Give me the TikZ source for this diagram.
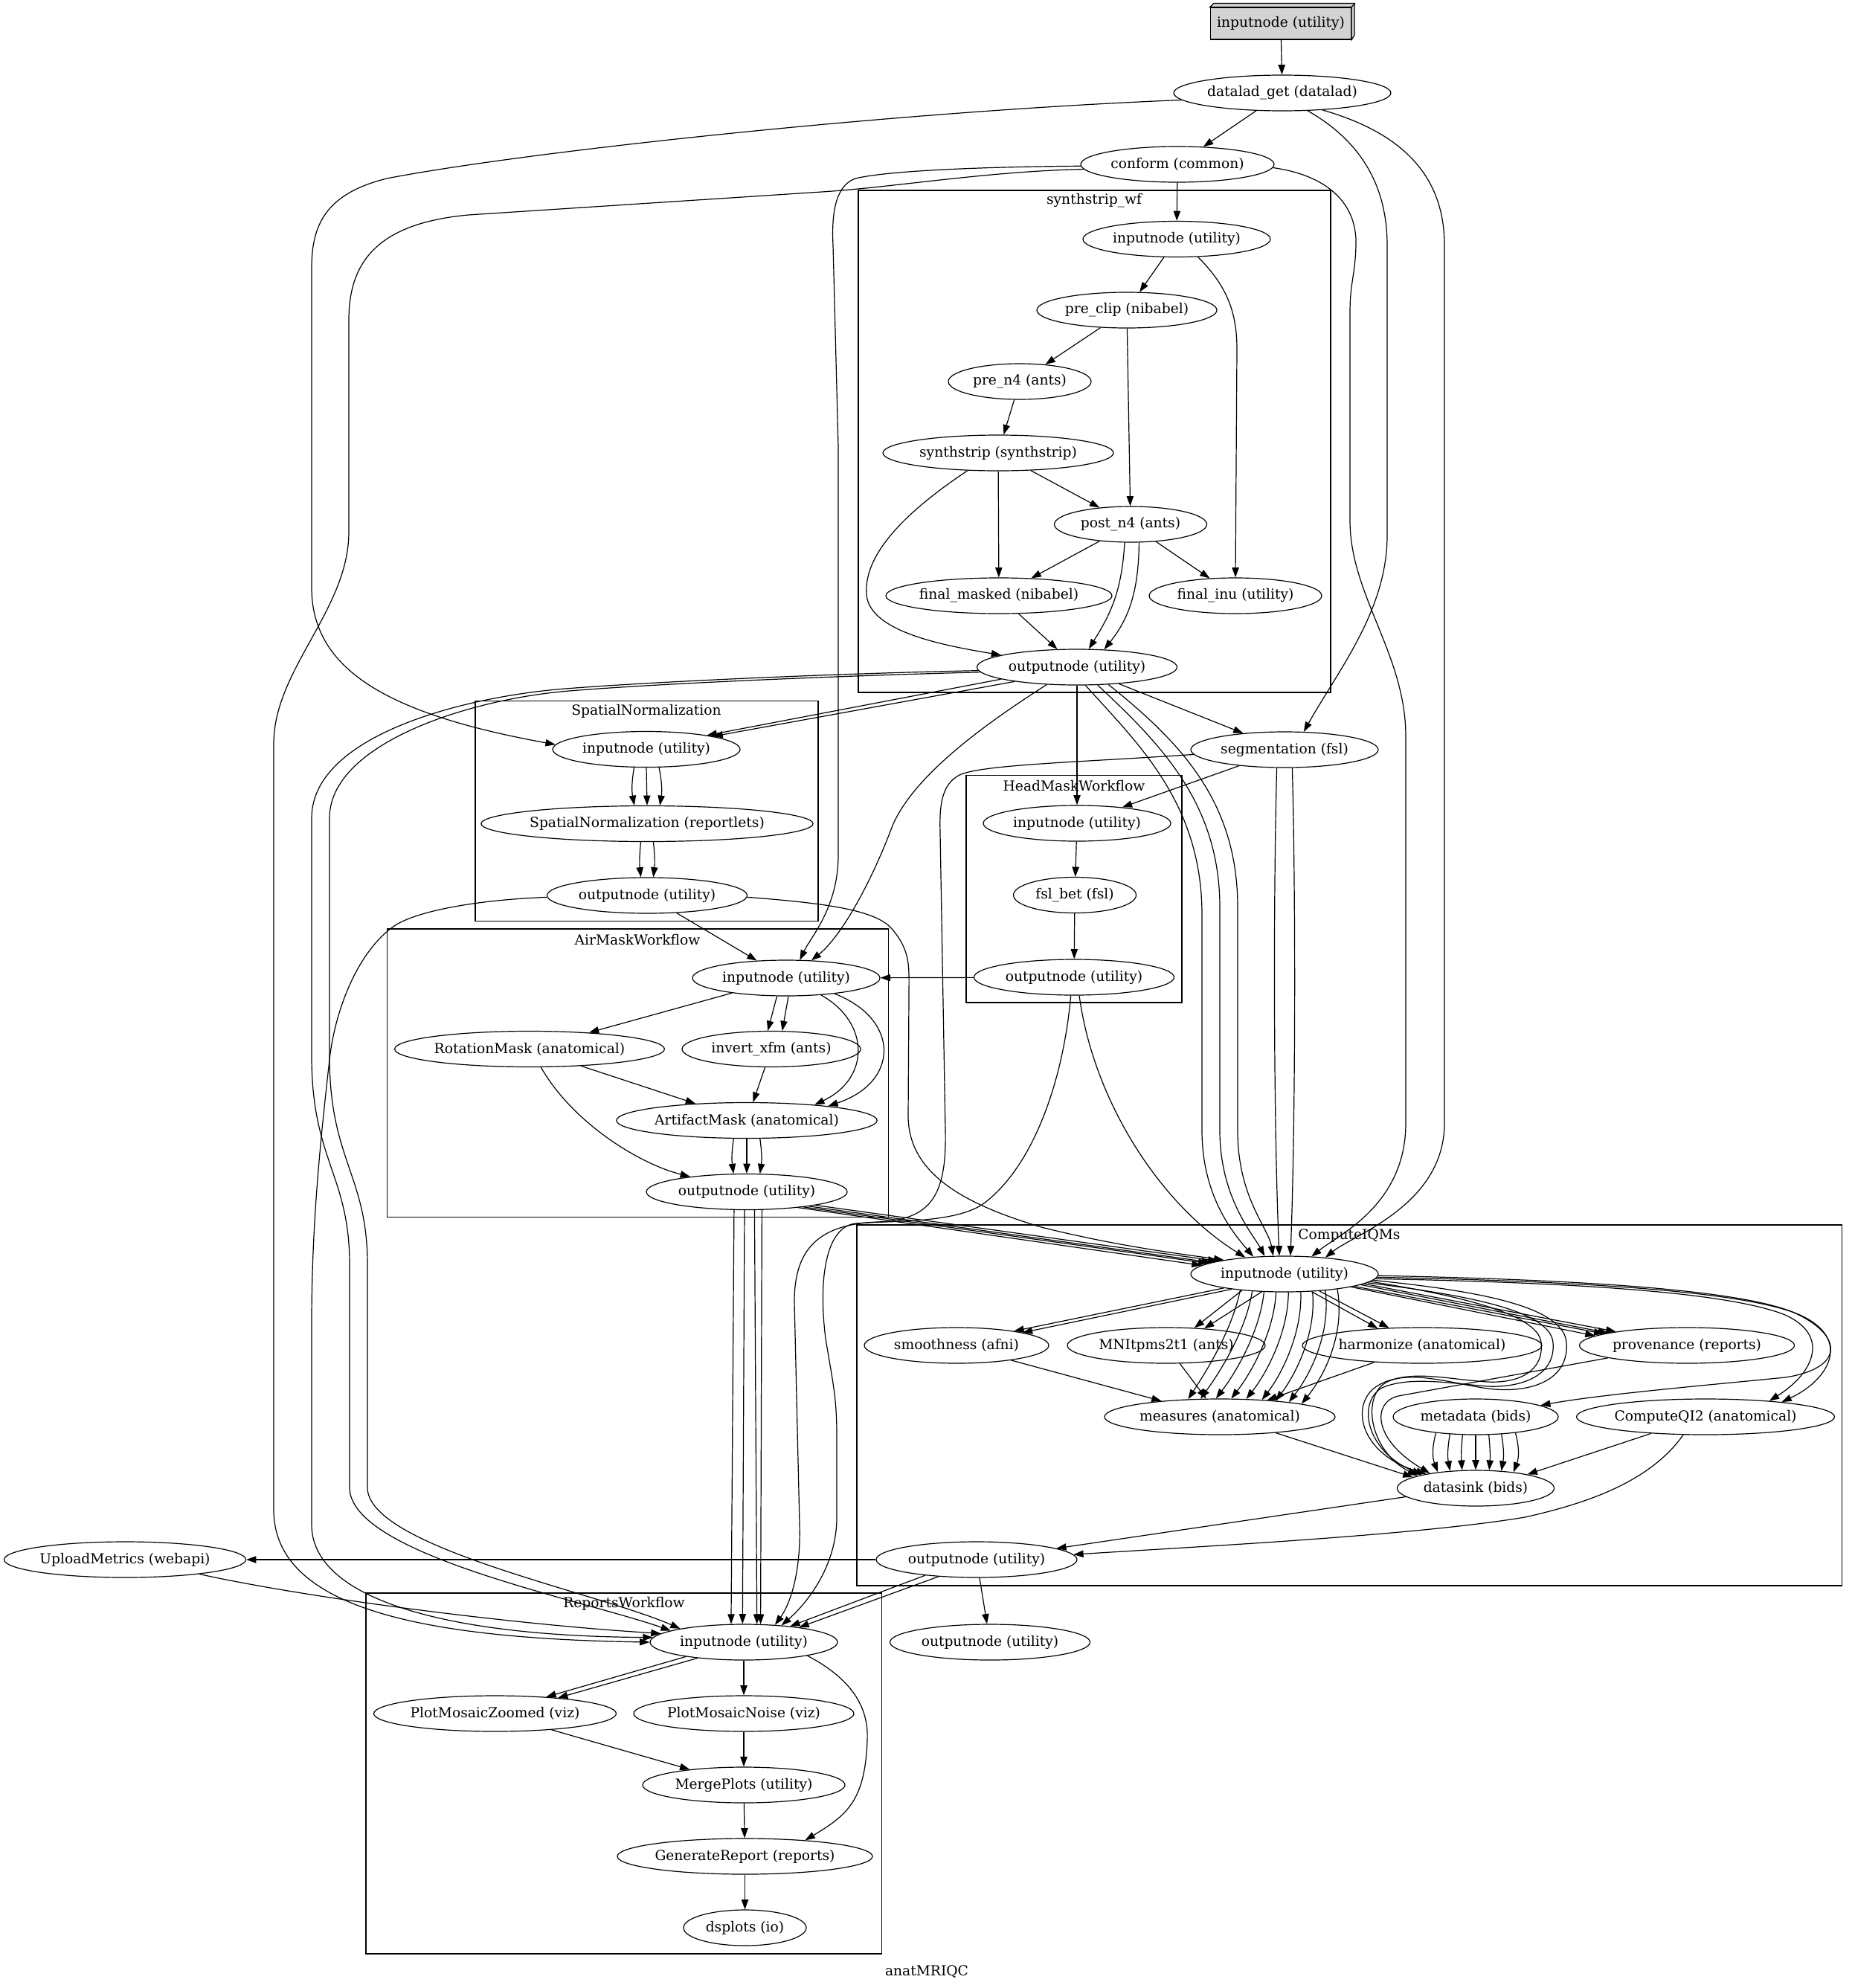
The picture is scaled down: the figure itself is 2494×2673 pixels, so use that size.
\documentclass[tikz,border=0pt]{standalone}
\usepackage{fontspec}
\setmainfont{DejaVu Serif}
\usetikzlibrary{arrows.meta,shapes.geometric}
\definecolor{boxgray}{HTML}{D3D3D3}
\newcommand{\gv}{\fontsize{14pt}{17pt}\selectfont}

\begin{document}
\begin{tikzpicture}[x=0.75pt, y=-0.75pt, line width=0.9pt, font=\gv,
  job/.style={draw, ellipse, minimum height=36pt, inner sep=0pt},
  wire/.style={-{Triangle[length=10pt,width=7pt]}}]
\useasboundingbox (0,0) rectangle (2494,2673);

\draw (1154,256) rectangle (1789,931);
\node (lss) at (1471,270) {synthstrip\_wf};
\draw (639,942.5) rectangle (1100,1238.5);
\node (lsn) at (869,956) {SpatialNormalization};
\draw (1299,1042.5) rectangle (1589,1348);
\node (lhm) at (1444,1056.5) {HeadMaskWorkflow};
\draw (520.5,1249) rectangle (1194.5,1636.5);
\node (lam) at (857,1263.5) {AirMaskWorkflow};
\draw (1152,1647) rectangle (2476.5,2132);
\node (lcq) at (1814,1661) {ComputeIQMs};
\draw (492,2142) rectangle (1185.5,2627);
\node (lrw) at (839,2156) {ReportsWorkflow};
\node (graphlabel) at (1246,2651) {anatMRIQC};

\node[draw, fill=boxgray, minimum width=141.75pt, minimum height=32.25pt, inner sep=0pt] (top) at (1722,31.5) {inputnode (utility)};
\draw[fill=boxgray] (top.north west) -- ++(5,-5) -- ++(189,0) -- ++(0,43) -- (top.south east) -- (top.north east) -- cycle;
\draw (top.north east) -- ++(5,-5);

\node[job, minimum width=219pt] (dlget) at (1724,125) {datalad\_get (datalad)};
\node[job, minimum width=195pt] (conform) at (1583,221) {conform (common)};
\node[job, minimum width=189pt] (ssin) at (1582,321.5) {inputnode (utility)};
\node[job, minimum width=181.5pt] (preclip) at (1515,417) {pre\_clip (nibabel)};
\node[job, minimum width=144pt] (pren4) at (1371,513) {pre\_n4 (ants)};
\node[job, minimum width=232.5pt] (sstrip) at (1342,609) {synthstrip (synthstrip)};
\node[job, minimum width=153.75pt] (postn4) at (1520,705) {post\_n4 (ants)};
\node[job, minimum width=228pt] (fmask) at (1343,801) {final\_masked (nibabel)};
\node[job, minimum width=174pt] (finu) at (1661,801) {final\_inu (utility)};
\node[job, minimum width=201.75pt] (ssout) at (1448,897) {outputnode (utility)};
\node[job, minimum width=189pt] (snin) at (869,1007.5) {inputnode (utility)};
\node[job, minimum width=330pt] (snrep) at (870,1107.5) {SpatialNormalization (reportlets)};
\node[job, minimum width=201.75pt] (snout) at (870,1204) {outputnode (utility)};
\node[job, minimum width=189pt] (seg) at (1727,1008) {segmentation (fsl)};
\node[job, minimum width=189pt] (hmin) at (1448,1107) {inputnode (utility)};
\node[job, minimum width=123.75pt] (bet) at (1445,1203.5) {fsl\_bet (fsl)};
\node[job, minimum width=201.75pt] (hmout) at (1444,1314) {outputnode (utility)};
\node[job, minimum width=189pt] (amin) at (1057,1315) {inputnode (utility)};
\node[job, minimum width=270.75pt] (rotm) at (712,1410.5) {RotationMask (anatomical)};
\node[job, minimum width=180pt] (invx) at (1037,1410.5) {invert\_xfm (ants)};
\node[job, minimum width=261pt] (artm) at (1004,1506.5) {ArtifactMask (anatomical)};
\node[job, minimum width=202.5pt] (amout) at (1004,1602.5) {outputnode (utility)};
\node[job, minimum width=189pt] (cqin) at (1727,1713) {inputnode (utility)};
\node[job, minimum width=186pt] (smooth) at (1286,1809) {smoothness (afni)};
\node[job, minimum width=199.5pt] (mni) at (1568,1809) {MNItpms2t1 (ants)};
\node[job, minimum width=241.5pt] (harm) at (1912,1809) {harmonize (anatomical)};
\node[job, minimum width=216.75pt] (prov) at (2268,1809) {provenance (reports)};
\node[job, minimum width=232.5pt] (meas) at (1640,1905) {measures (anatomical)};
\node[job, minimum width=166.5pt] (meta) at (1984,1905) {metadata (bids)};
\node[job, minimum width=260.25pt] (qi2) at (2293,1905) {ComputeQI2 (anatomical)};
\node[job, minimum width=158.25pt] (dsink) at (1984,2001) {datasink (bids)};
\node[job, minimum width=202.5pt] (cqout) at (1313,2097) {outputnode (utility)};
\node[job, minimum width=243.75pt] (upload) at (168,2097) {UploadMetrics (webapi)};
\node[job, minimum width=201.75pt] (outnode) at (1331,2208) {outputnode (utility)};
\node[job, minimum width=189pt] (rpin) at (1000,2208) {inputnode (utility)};
\node[job, minimum width=244.5pt] (pmz) at (665.5,2304) {PlotMosaicZoomed (viz)};
\node[job, minimum width=222pt] (pmn) at (1000,2304) {PlotMosaicNoise (viz)};
\node[job, minimum width=204pt] (merge) at (1000,2400) {MergePlots (utility)};
\node[job, minimum width=257.25pt] (genrep) at (1001.5,2496) {GenerateReport (reports)};
\node[job, minimum width=123.75pt] (dsplots) at (1001.5,2592) {dsplots (io)};

\draw[wire] (top) -- (dlget);
\draw[wire] (dlget) -- (conform);
\draw[wire] (dlget.184) .. controls (1200,150) and (700,205) .. (520,240) .. controls (440,260) and (419,300) .. (419,360) -- (419,790) .. controls (419,900) and (520,960) .. (snin.177);
\draw[wire] (dlget.325) .. controls (1830,190) and (1865,250) .. (1865,330) -- (1865,720) .. controls (1865,820) and (1800,900) .. (seg.43);
\draw[wire] (dlget.337) .. controls (1890,180) and (1942,240) .. (1942,330) -- (1942,1510) .. controls (1942,1620) and (1820,1660) .. (cqin.22);
\draw[wire] (conform) -- (ssin);
\draw[wire] (conform.181) .. controls (1350,224) and (1200,228) .. (1150,240) .. controls (1122,250) and (1118,290) .. (1120,330) -- (1127,600) -- (1127,1150) .. controls (1127,1220) and (1090,1260) .. (amin.53);
\draw[wire] (conform.183) .. controls (1330,230) and (1200,252) .. (1105,258) -- (630,289) .. controls (510,300) and (469,350) .. (469,430) -- (469,715) .. controls (469,820) and (368,900) .. (368,1000) -- (368,2030) .. controls (368,2160) and (560,2203) .. (rpin.180);
\draw[wire] (conform.358) .. controls (1780,235) and (1825,270) .. (1823,330) .. controls (1822,370) and (1815,380) .. (1815,420) -- (1815,700) .. controls (1815,800) and (1890,880) .. (1890,990) -- (1890,1510) .. controls (1890,1620) and (1800,1660) .. (cqin.33);

\draw[wire] (ssin) -- (preclip);
\draw[wire] (ssin.320) .. controls (1650,385) and (1663,420) .. (1663,470) -- (finu.north);
\draw[wire] (preclip) -- (pren4);
\draw[wire] (preclip) -- (postn4);
\draw[wire] (pren4) -- (sstrip);
\draw[wire] (sstrip) -- (postn4);
\draw[wire] (sstrip) -- (fmask);
\draw[wire] (sstrip.210) .. controls (1230,680) and (1160,740) .. (1165,800) .. controls (1170,850) and (1270,868) .. (ssout.171);
\draw[wire] (postn4) -- (fmask);
\draw[wire] (postn4) -- (finu);
\draw[wire] (postn4.252) .. controls (1508,800) and (1490,830) .. (ssout.57);
\draw[wire] (postn4.295) .. controls (1531,800) and (1515,835) .. (ssout.33);
\draw[wire] (fmask) -- (ssout);

\draw[wire] (ssout.189) -- (snin.13);
\draw[wire] (ssout.193) -- (snin.11);
\draw[wire] (ssout) -- (seg);
\draw[wire] (ssout) -- (hmin);
\draw[wire] (ssout.210) .. controls (1330,970) and (1230,1040) .. (1200,1110) .. controls (1170,1190) and (1130,1260) .. (amin.35);
\draw[wire] (ssout.295) .. controls (1530,1000) and (1616,1080) .. (1616,1230) -- (1616,1520) .. controls (1616,1610) and (1660,1660) .. (cqin.151);
\draw[wire] (ssout.319) .. controls (1560,1000) and (1640,1080) .. (1640,1220) -- (1640,1520) .. controls (1640,1610) and (1685,1660) .. (cqin.138);
\draw[wire] (ssout.331) .. controls (1590,1000) and (1664,1080) .. (1664,1220) -- (1664,1520) .. controls (1664,1610) and (1705,1650) .. (cqin.122);
\draw[wire] (ssout.182) .. controls (1150,905) and (900,915) .. (760,926) .. controls (620,937) and (419,990) .. (419,1100) -- (419,1420) .. controls (419,1560) and (470,1580) .. (470,1700) -- (470,2000) .. controls (470,2090) and (780,2150) .. (rpin.171);
\draw[wire] (ssout.183) .. controls (1150,908) and (900,918) .. (765,929) .. controls (630,940) and (443,1000) .. (443,1100) -- (443,1420) .. controls (443,1560) and (494,1580) .. (494,1700) -- (494,2000) .. controls (494,2080) and (800,2140) .. (rpin.168);

\draw[wire] (snin.236) to[bend left=-10] (snrep.125);
\draw[wire] (snin.south) -- (snrep.north);
\draw[wire] (snin.305) to[bend left=10] (snrep.55);
\draw[wire] (snrep.251) to[bend left=-6] (snout.109);
\draw[wire] (snrep.289) to[bend left=6] (snout.71);
\draw[wire] (snout) -- (amin);
\draw[wire] (snout.359) .. controls (1120,1215) and (1180,1225) .. (1200,1250) .. controls (1225,1280) and (1222,1300) .. (1222,1340) -- (1221,1500) .. controls (1221,1580) and (1300,1620) .. (1400,1650) .. controls (1500,1675) and (1580,1685) .. (cqin.167);
\draw[wire] (snout.181) .. controls (640,1210) and (560,1225) .. (530,1245) .. controls (480,1280) and (450,1360) .. (443,1425) .. controls (430,1540) and (419,1650) .. (419,1780) -- (419,2050) .. controls (419,2150) and (600,2200) .. (rpin.177);

\draw[wire] (seg) -- (hmin);
\draw[wire] (seg.247) .. controls (1712,1200) and (1712,1500) .. (cqin.106);
\draw[wire] (seg.293) .. controls (1742,1200) and (1742,1500) .. (cqin.72);
\draw[wire] (seg.183) .. controls (1450,1025) and (1320,1028) .. (1290,1042) .. controls (1265,1055) and (1263,1085) .. (1264,1120) -- (1271,1520) .. controls (1273,1610) and (1250,1640) .. (1180,1643) .. controls (1100,1646) and (1068,1680) .. (1068,1750) -- (1075,2050) .. controls (1077,2120) and (1060,2160) .. (rpin.29);

\draw[wire] (hmin) -- (bet);
\draw[wire] (bet) -- (hmout);
\draw[wire] (hmout) -- (amin);
\draw[wire] (hmout.286) .. controls (1470,1480) and (1560,1620) .. (cqin.157);
\draw[wire] (hmout.260) .. controls (1430,1450) and (1390,1570) .. (1320,1620) .. controls (1280,1645) and (1200,1641) .. (1150,1645) .. controls (1110,1650) and (1100,1720) .. (1110,1800) .. controls (1120,1860) and (1125,1880) .. (1125,1930) -- (1125,2040) .. controls (1125,2110) and (1080,2160) .. (rpin.24);

\draw[wire] (amin) -- (rotm);
\draw[wire] (amin.243) -- (invx.101);
\draw[wire] (amin.277) -- (invx.59);
\draw[wire] (amin.334) .. controls (1170,1375) and (1170,1450) .. (artm.13);
\draw[wire] (amin.342) .. controls (1210,1370) and (1210,1455) .. (artm.10);
\draw[wire] (rotm) -- (artm);
\draw[wire] (invx) -- (artm);
\draw[wire] (rotm.302) .. controls (770,1510) and (860,1565) .. (amout.165);
\draw[wire] (artm.234) to[bend left=-8] (amout.126);
\draw[wire] (artm.south) -- (amout.north);
\draw[wire] (artm.306) to[bend left=8] (amout.54);
\foreach \a/\b in {343/174,345/172,347/171,349/169}
  \draw[wire] (amout.\a) -- (cqin.\b);
\draw[wire] (amout.235) -- (rpin.125);
\draw[wire] (amout.263) -- (rpin.94);
\draw[wire] (amout.293) -- (rpin.54);
\draw[wire] (amout.310) -- (rpin.47);

\draw[wire] (cqin.193) -- (smooth.14);
\draw[wire] (cqin.196) -- (smooth.11);
\draw[wire] (cqin.201) -- (mni.32);
\draw[wire] (cqin.218) -- (mni.24);
\draw[wire] (cqin.327) -- (harm.159);
\draw[wire] (cqin.334) -- (harm.152);
\foreach \a/\b in {353/169,352/171,350/172,349/174}
  \draw[wire] (cqin.\a) -- (prov.\b);
\foreach \a/\p/\q/\b in {200/1656/1621/151, 208/1675/1640/137, 221/1694/1662/102, 245/1713/1683/58, 282/1732/1704/34, 312/1751/1725/22, 328/1770/1744/16, 338/1789/1764/12, 344/1808/1784/9}
  \draw[wire] (cqin.\a) .. controls (\p,1790) and (\q,1845) .. (meas.\b);
\draw[wire] (cqin.357) .. controls (2150,1725) and (2330,1740) .. (2400,1768) .. controls (2460,1795) and (2440,1845) .. (qi2.14);
\draw[wire] (cqin.358) .. controls (2150,1723) and (2350,1738) .. (2420,1768) .. controls (2490,1800) and (2460,1855) .. (qi2.11);
\draw[wire] (cqin.359) .. controls (2150,1721) and (2340,1736) .. (2410,1764) .. controls (2480,1795) and (2480,1840) .. (2400,1852) .. controls (2300,1862) and (2150,1875) .. (meta.10);
\draw[wire] (cqin.355) .. controls (1950,1740) and (2068,1765) .. (2072,1805) .. controls (2076,1845) and (2040,1860) .. (2000,1858) .. controls (1950,1855) and (1900,1842) .. (1865,1858) .. controls (1830,1875) and (1840,1950) .. (dsink.168);
\draw[wire] (cqin.354) .. controls (1960,1740) and (2084,1760) .. (2088,1805) .. controls (2092,1850) and (2045,1866) .. (2000,1864) .. controls (1950,1860) and (1895,1850) .. (1858,1866) .. controls (1825,1885) and (1835,1950) .. (dsink.166);
\draw[wire] (cqin.356) .. controls (1980,1735) and (2102,1755) .. (2106,1805) .. controls (2110,1855) and (2060,1872) .. (2010,1868) .. controls (1960,1864) and (1890,1835) .. (1848,1866) .. controls (1815,1892) and (1830,1955) .. (dsink.164);

\draw[wire] (smooth) -- (meas);
\draw[wire] (mni) -- (meas);
\draw[wire] (harm) -- (meas);
\draw[wire] (prov.189) -- (1880,1877) .. controls (1845,1885) and (1845,1935) .. (dsink.162);
\foreach \a/\b/\c in {202/157/-18,214/146/-10,234/127/-5,270/90/0,306/53/5,326/34/10,338/23/18}
  \draw[wire] (meta.\a) to[bend left=\c] (dsink.\b);
\draw[wire] (meas.344) -- (dsink.170);
\draw[wire] (qi2.197) -- (dsink.15);
\draw[wire] (qi2.219) .. controls (2220,1990) and (2140,2020) .. (2050,2040) .. controls (1900,2065) and (1600,2080) .. (cqout.3);
\draw[wire] (dsink.187) -- (cqout.8);

\draw[wire] (cqout) -- (upload);
\draw[wire] (cqout.197) -- (rpin.19);
\draw[wire] (cqout.204) -- (rpin.15);
\draw[wire] (cqout) -- (outnode);
\draw[wire] (upload.349) .. controls (420,2150) and (700,2185) .. (rpin.174);

\draw[wire] (rpin.194) -- (pmz.18);
\draw[wire] (rpin.199) -- (pmz.14);
\draw[wire] (rpin) -- (pmn);
\draw[wire] (rpin.348) .. controls (1150,2260) and (1168,2300) .. (1166,2340) .. controls (1163,2420) and (1140,2440) .. (genrep.15);
\draw[wire] (pmz) -- (merge);
\draw[wire] (pmn) -- (merge);
\draw[wire] (merge) -- (genrep);
\draw[wire] (genrep) -- (dsplots);
\end{tikzpicture}
\end{document}
